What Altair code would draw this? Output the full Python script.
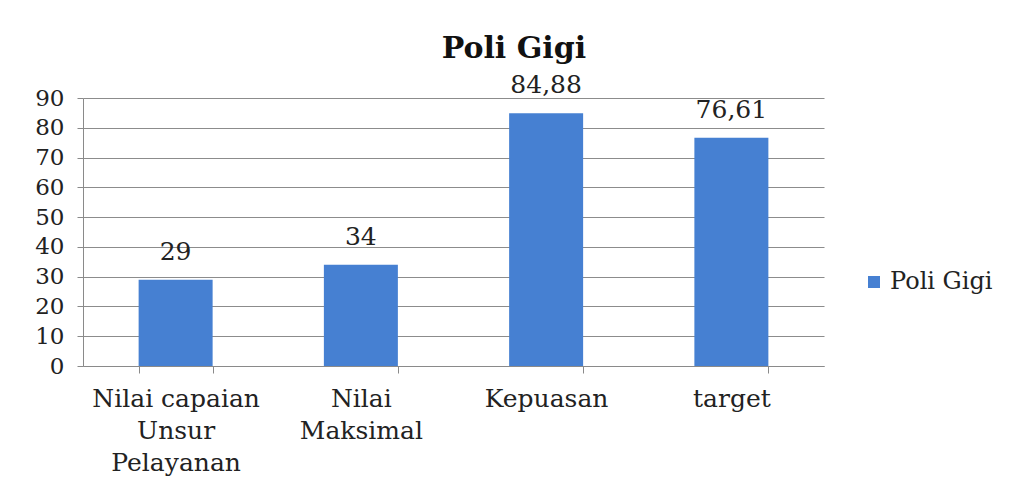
import altair as alt
import pandas as pd

categories = ["Nilai capaian Unsur Pelayanan", "Nilai Maksimal", "Kepuasan", "target"]
values = [29, 34, 84.88, 76.61]
value_labels = ["29", "34", "84,88", "76,61"]
series = ["Poli Gigi"] * 4
y_ticks = [0, 10, 20, 30, 40, 50, 60, 70, 80, 90]

df = pd.DataFrame({"cat": categories, "val": values, "lab": value_labels, "series": series})

label_expr = ("datum.value == 'Nilai capaian Unsur Pelayanan' ? ['Nilai capaian','Unsur','Pelayanan'] : "
              "datum.value == 'Nilai Maksimal' ? ['Nilai','Maksimal'] : datum.value")

x = alt.X("cat:N", sort=categories, title=None,
          scale=alt.Scale(paddingInner=0.6, paddingOuter=0.3),
          axis=alt.Axis(labelAngle=0, labelExpr=label_expr, labelFont="DejaVu Serif",
                        labelFontSize=25, labelColor="#222", labelLineHeight=32,
                        labelPadding=13, tickBand="extent", tickSize=7,
                        tickColor="#8a8a8a", domainColor="#8a8a8a", grid=False,
                        labelBaseline="top"))
y = alt.Y("val:Q", title=None, scale=alt.Scale(domain=[0, 90]),
          axis=alt.Axis(values=y_ticks, labelOverlap=False, labelFont="DejaVu Serif",
                        labelFontSize=23, labelColor="#222", labelPadding=13, tickSize=6,
                        tickColor="#8a8a8a", domainColor="#8a8a8a",
                        gridColor="#8c8c8c", gridWidth=1.2))

base = alt.Chart(df).encode(x=x, y=y)

bars = base.mark_bar(size=74).encode(
    color=alt.Color("series:N", title=None,
                    scale=alt.Scale(range=["#4680D2"]),
                    legend=alt.Legend(orient="none", legendX=779, legendY=172,
                                      symbolType="square", symbolSize=144,
                                      labelFont="DejaVu Serif", labelFontSize=24,
                                      labelColor="#222", padding=0))
)

text = base.mark_text(baseline="bottom", dy=-15, font="DejaVu Serif",
                      fontSize=25, color="#222").encode(text="lab:N")

chart = alt.layer(bars, text).properties(
    width=741, height=268,
    padding={"left": 26, "top": 26, "right": 5, "bottom": 5},
    title=alt.Title("Poli Gigi", font="DejaVu Serif", fontSize=30, fontWeight="bold",
                    color="#111", anchor="middle", frame="bounds", offset=9)
).configure(background="white").configure_view(stroke=None)

chart.save("out.html", embed_options={"renderer": "svg", "actions": False})
